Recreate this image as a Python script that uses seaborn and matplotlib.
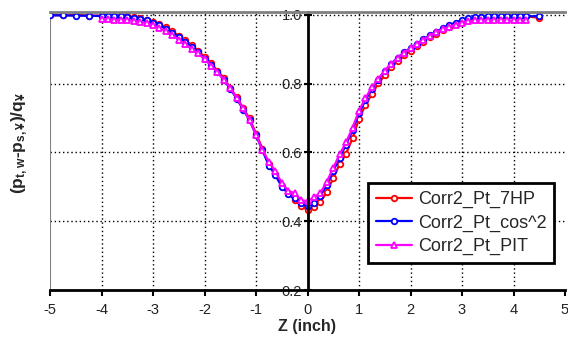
import matplotlib
matplotlib.use("Agg")
import matplotlib.pyplot as plt
import seaborn as sns
import pandas as pd

# ---------------- data ----------------
z_edge_left = [-5.0, -4.75, -4.5, -4.25]
z_mid = [-4.0, -3.875, -3.75, -3.625, -3.5, -3.375, -3.25, -3.125, -3.0, -2.875,
         -2.75, -2.625, -2.5, -2.375, -2.25, -2.125, -2.0, -1.875, -1.75, -1.625,
         -1.5, -1.375, -1.25, -1.125, -1.0, -0.875, -0.75, -0.625, -0.5, -0.375,
         -0.25, -0.125, 0.0, 0.125, 0.25, 0.375, 0.5, 0.625, 0.75, 0.875,
         1.0, 1.125, 1.25, 1.375, 1.5, 1.625, 1.75, 1.875, 2.0, 2.125,
         2.25, 2.375, 2.5, 2.625, 2.75, 2.875, 3.0, 3.125, 3.25, 3.375,
         3.5, 3.625, 3.75, 3.875, 4.0, 4.125, 4.25]
z_edge_right = [4.5]

hp7_left = [1.000, 0.999, 1.000, 0.998]
hp7_mid = [0.998, 0.997, 0.998, 0.996, 0.996, 0.993, 0.991, 0.986, 0.981, 0.973,
           0.964, 0.952, 0.940, 0.926, 0.913, 0.896, 0.878, 0.860, 0.838, 0.817,
           0.788, 0.761, 0.729, 0.699, 0.655, 0.611, 0.566, 0.538, 0.503, 0.482,
           0.462, 0.444, 0.433, 0.440, 0.457, 0.484, 0.526, 0.566, 0.597, 0.642,
           0.698, 0.738, 0.770, 0.801, 0.825, 0.848, 0.866, 0.883, 0.896, 0.911,
           0.922, 0.935, 0.945, 0.956, 0.964, 0.973, 0.979, 0.986, 0.989, 0.993,
           0.994, 0.996, 0.995, 0.997, 0.996, 0.997, 0.996]
hp7_right = [0.992]

cos2_left = [0.999, 0.999, 0.998, 0.998]
cos2_mid = [0.997, 0.997, 0.996, 0.996, 0.995, 0.992, 0.989, 0.984, 0.978, 0.970,
            0.960, 0.948, 0.935, 0.921, 0.907, 0.891, 0.873, 0.855, 0.834, 0.812,
            0.785, 0.757, 0.725, 0.694, 0.651, 0.606, 0.562, 0.534, 0.501, 0.480,
            0.467, 0.452, 0.443, 0.452, 0.474, 0.505, 0.546, 0.585, 0.623, 0.665,
            0.714, 0.752, 0.786, 0.812, 0.837, 0.858, 0.876, 0.891, 0.904, 0.917,
            0.929, 0.941, 0.951, 0.961, 0.970, 0.978, 0.985, 0.990, 0.993, 0.995,
            0.996, 0.996, 0.996, 0.997, 0.996, 0.997, 0.996]
cos2_right = [0.997]

pit_mid = [0.988, 0.988, 0.986, 0.986, 0.985, 0.983, 0.980, 0.976, 0.970, 0.962,
           0.953, 0.942, 0.928, 0.915, 0.902, 0.888, 0.872, 0.853, 0.834, 0.812,
           0.788, 0.758, 0.728, 0.694, 0.652, 0.607, 0.573, 0.545, 0.512, 0.488,
           0.482, 0.462, 0.458, 0.470, 0.482, 0.515, 0.555, 0.595, 0.630, 0.672,
           0.722, 0.758, 0.790, 0.815, 0.838, 0.858, 0.875, 0.890, 0.904, 0.916,
           0.928, 0.940, 0.950, 0.958, 0.966, 0.972, 0.978, 0.982, 0.984, 0.984,
           0.984, 0.984, 0.984, 0.984, 0.984, 0.984, 0.984]

series_names = ["Corr2_Pt_7HP", "Corr2_Pt_cos^2", "Corr2_Pt_PIT"]
x_ticks = [-5, -4, -3, -2, -1, 0, 1, 2, 3, 4, 5]
y_ticks = [0.2, 0.4, 0.6, 0.8, 1.0]
y_tick_labels = ["0.2", "0.4", "0.6", "0.8", "1.0"]

# ---------------- style ----------------
sns.set_theme(style="white")
plt.rcParams["font.family"] = ["Liberation Sans", "DejaVu Sans"]
plt.rcParams["mathtext.fontset"] = "custom"
plt.rcParams["mathtext.rm"] = "Liberation Sans:bold"
plt.rcParams["mathtext.bf"] = "Liberation Sans:bold"
plt.rcParams["mathtext.it"] = "Liberation Sans:bold"

fig = plt.figure(figsize=(5.68, 3.37), dpi=100)
ax = fig.add_axes([50 / 568, 1 - 290 / 337, 515 / 568, (290 - 11.9) / 337])

df7 = pd.DataFrame({"z": z_edge_left + z_mid + z_edge_right, "v": hp7_left + hp7_mid + hp7_right})
dfc = pd.DataFrame({"z": z_edge_left + z_mid + z_edge_right, "v": cos2_left + cos2_mid + cos2_right})
dfp = pd.DataFrame({"z": z_mid, "v": pit_mid})

common = dict(estimator=None, sort=False, linewidth=1.6, markerfacecolor="white",
              markeredgewidth=1.3, ax=ax)
sns.lineplot(data=df7, x="z", y="v", color="#ff0000", marker="o", markersize=4,
             markeredgecolor="#ff0000", label=series_names[0], **common)
sns.lineplot(data=dfc, x="z", y="v", color="#0000ff", marker="o", markersize=4,
             markeredgecolor="#0000ff", label=series_names[1], **common)
sns.lineplot(data=dfp, x="z", y="v", color="#ff00ff", marker="^", markersize=5,
             markeredgecolor="#ff00ff", label=series_names[2], **common)

ax.set_xlim(-5, 5)
ax.set_ylim(0.2, 1.009)

# grid
for xv in x_ticks[1:-1]:
    if xv != 0:
        ax.axvline(xv, color="black", linestyle=(0, (1, 2)), linewidth=1.0, zorder=0.5)
for yv in y_ticks[1:]:
    ax.axhline(yv, color="black", linestyle=(0, (1, 2)), linewidth=1.0, zorder=0.5)

# spines
ax.spines["left"].set_position(("data", 0))
ax.spines["left"].set_color("black")
ax.spines["left"].set_linewidth(2)
ax.spines["bottom"].set_color("black")
ax.spines["bottom"].set_linewidth(2)
ax.spines["top"].set_color("#808080")
ax.spines["top"].set_linewidth(2)
ax.spines["right"].set_visible(False)
ax.axvline(-5, color="#808080", linewidth=1.5, zorder=0.6)

ax.set_xticks(x_ticks)
ax.set_xticklabels([str(t) for t in x_ticks])
ax.set_yticks(y_ticks)
ax.set_yticklabels(y_tick_labels)
ax.tick_params(axis="x", direction="out", length=4, width=1.5, color="black",
               labelsize=10.5, labelcolor="#222222", pad=5, bottom=True)
ax.tick_params(axis="y", direction="inout", length=6, width=1.5, color="black",
               labelsize=10.5, labelcolor="#222222", pad=1, left=True)
ax.set_xlabel("")
ax.set_ylabel("")

fig.text(307 / 568, 1 - 327 / 337, "Z (inch)", ha="center", va="center",
         fontsize=11.5, fontweight="bold")
fig.text(20 / 568, 1 - 143 / 337, r"(p$_{t,w}$-p$_{s,¥}$)/q$_{¥}$", ha="center",
         va="center", rotation=90, fontsize=12.5, fontweight="bold")

leg = ax.legend(loc="upper left", bbox_to_anchor=((368 - 50) / 515, (290 - 183) / 278.1),
                borderaxespad=0, frameon=True, fancybox=False, fontsize=13,
                handlelength=2.0, labelspacing=0.35, borderpad=0.45, handletextpad=0.3)
leg.get_frame().set_edgecolor("black")
leg.get_frame().set_linewidth(2)
leg.get_frame().set_facecolor("white")
leg.get_frame().set_alpha(1)

fig.savefig("out.png", dpi=100)
